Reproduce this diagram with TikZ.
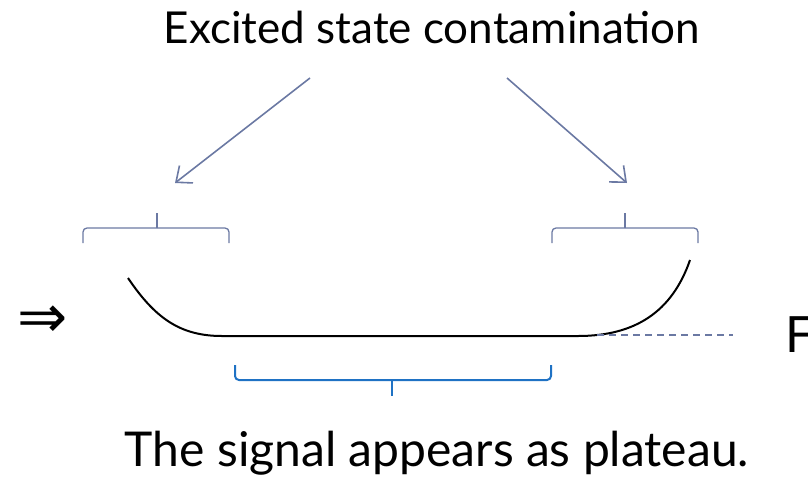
\documentclass[tikz,border=0pt]{standalone}
\usepackage{fontspec}
\setmainfont{Lato}
\newfontfamily\symfont{DejaVu Sans}
\usetikzlibrary{arrows.meta}
\definecolor{slate}{HTML}{6B79A3}
\definecolor{bblue}{HTML}{1F72C4}
\tikzset{
  lbl/.style={inner sep=0pt},
  arr/.style={draw=slate, line width=1.6pt, -{Straight Barb[length=13pt,width=22pt,line width=1.6pt]}},
  sbrace/.style={draw=slate, line width=1.3pt, rounded corners=4pt},
  bbrace/.style={draw=bblue, line width=2pt, rounded corners=4pt},
}
\begin{document}
\begin{tikzpicture}[x=1pt,y=-1pt]
\useasboundingbox (0,0) rectangle (808,485);
\node[lbl, anchor=base, font=\fontsize{44}{48}\selectfont] (title) at (432,43) {Excited state contamination};
\node[lbl, anchor=base, font=\fontsize{48}{52}\selectfont] (bottom) at (437,466) {The signal appears as plateau.};
\node[inner sep=0pt, anchor=base west, font=\fontsize{50}{54}\selectfont] (F) at (785,352) {F};
\node[inner sep=0pt, font=\symfont\fontsize{60}{64}\selectfont] (impl) at (43,322) {⇒};
% arrows
\coordinate (a1s) at (310,78);
\coordinate (a1e) at (175,183);
\coordinate (a2s) at (507,78);
\coordinate (a2e) at (627,183);
\draw[arr] (a1s) -- (a1e);
\draw[arr] (a2s) -- (a2e);
% small braces
\draw[sbrace] (83,243) -- (83,228) -- (157,228);
\draw[sbrace] (229,243) -- (229,228) -- (157,228);
\draw[slate, line width=1.3pt] (157,228) -- (157,213);
\draw[sbrace] (552,243) -- (552,228) -- (625,228);
\draw[sbrace] (698,243) -- (698,228) -- (625,228);
\draw[slate, line width=1.3pt] (625,228) -- (625,213);
% curve
\coordinate (c1) at (128,278);
\coordinate (c2) at (222,336);
\coordinate (c3) at (578,336);
\coordinate (c4) at (690,260);
\draw[black, line width=2pt] (c1) .. controls (155,318) and (180,336) .. (c2) -- (c3) .. controls (635,336) and (672,312) .. (c4);
% dashed
\draw[slate, line width=1.3pt, dash pattern=on 7pt off 5pt] (597,335) -- (733,335);
% bottom brace
\draw[bbrace] (235,365) -- (235,380) -- (392,380);
\draw[bbrace] (551,365) -- (551,380) -- (392,380);
\draw[bblue, line width=2pt] (392,380) -- (392,396);
\end{tikzpicture}
\end{document}
